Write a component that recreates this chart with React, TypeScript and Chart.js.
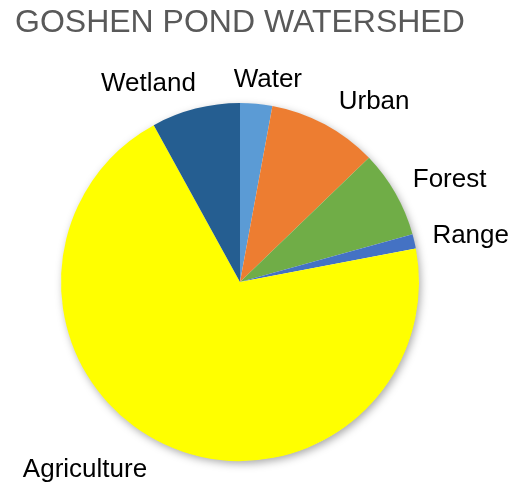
import React, { useEffect, useRef } from "react";
import { Chart, registerables } from "chart.js";

Chart.register(...registerables);

const TITLE = "GOSHEN POND WATERSHED";
const CATEGORIES = ["Water", "Urban", "Forest", "Range", "Agriculture", "Wetland"];
const SHARES = [2.9, 9.9, 7.9, 1.3, 70.0, 8.0];
const COLORS = ["#5B9BD5", "#ED7D31", "#70AD47", "#4472C4", "#FFFF00", "#255E91"];
// label placement relative to slice mid-angle: [angle shift in degrees, distance from centre]
const LABEL_SHIFT = [2.9, 9.5, 5.4, 3.5, 13.3, -11.2];
const LABEL_DIST = [197, 219, 230, 234, 249, 212];

const FONT = '"Liberation Sans", Arial, sans-serif';

const shadowPlugin = {
  id: "pieShadow",
  beforeDatasetsDraw(chart: any) {
    const meta = chart.getDatasetMeta(0);
    const arc = meta.data[0];
    if (!arc) return;
    const { x, y, outerRadius } = arc.getProps(["x", "y", "outerRadius"], true);
    const ctx = chart.ctx;
    ctx.save();
    ctx.shadowColor = "rgba(0,0,0,0.35)";
    ctx.shadowBlur = 9;
    ctx.shadowOffsetX = 2;
    ctx.shadowOffsetY = 3;
    ctx.fillStyle = "#ffffff";
    ctx.beginPath();
    ctx.arc(x, y, outerRadius - 0.5, 0, Math.PI * 2);
    ctx.fill();
    ctx.restore();
  },
};

const labelPlugin = {
  id: "pieLabels",
  afterDatasetsDraw(chart: any) {
    const ctx = chart.ctx;
    ctx.save();
    ctx.fillStyle = "#595959";
    ctx.font = `32px ${FONT}`;
    ctx.textAlign = "left";
    ctx.textBaseline = "alphabetic";
    ctx.fillText(TITLE, 15, 32);

    const meta = chart.getDatasetMeta(0);
    ctx.fillStyle = "#000000";
    ctx.font = `26px ${FONT}`;
    ctx.textAlign = "center";
    meta.data.forEach((el: any, i: number) => {
      const p = el.getProps(["x", "y", "startAngle", "endAngle"], true);
      const mid = (p.startAngle + p.endAngle) / 2 + (LABEL_SHIFT[i] * Math.PI) / 180;
      const d = LABEL_DIST[i];
      const lx = p.x + Math.cos(mid) * d;
      const ly = p.y + Math.sin(mid) * d;
      ctx.fillText(CATEGORIES[i], lx, ly);
    });
    ctx.restore();
  },
};

export default function App() {
  const ref = useRef<HTMLCanvasElement | null>(null);
  useEffect(() => {
    if (!ref.current) return;
    const chart = new Chart(ref.current, {
      type: "pie",
      data: {
        labels: CATEGORIES,
        datasets: [
          {
            data: SHARES,
            backgroundColor: COLORS,
            borderWidth: 0,
          },
        ],
      },
      options: {
        animation: false,
        responsive: true,
        maintainAspectRatio: false,
        layout: { padding: { top: 103, bottom: 25, left: 61, right: 94 } },
        plugins: {
          legend: { display: false },
          title: { display: false },
          tooltip: { enabled: false },
        },
      },
      plugins: [shadowPlugin, labelPlugin],
    });
    return () => chart.destroy();
  }, []);
  return (
    <div style={{ position: "absolute", left: 0, top: 0, width: 513, height: 486, background: "#fff" }}>
      <canvas ref={ref} />
    </div>
  );
}
